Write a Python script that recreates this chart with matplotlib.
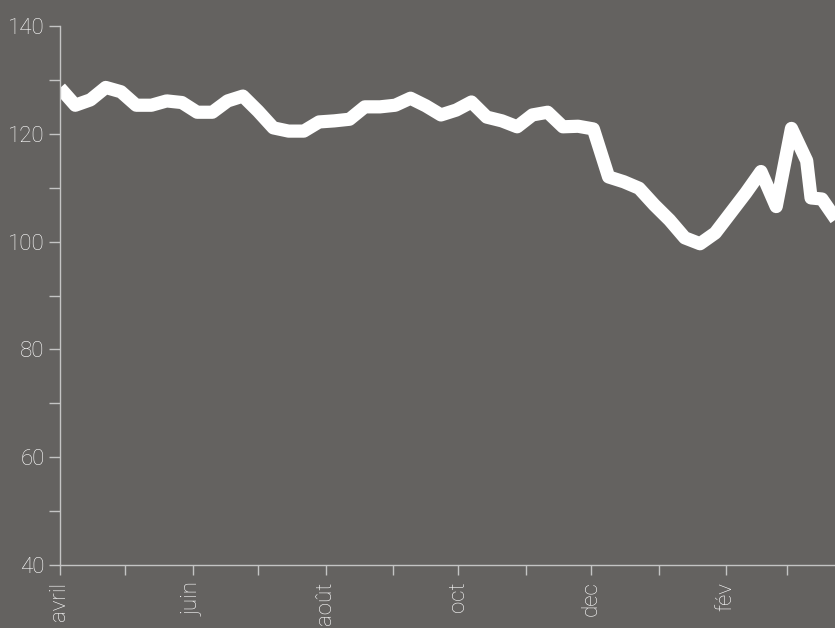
import pandas as pd
import matplotlib.pyplot as plt
import matplotlib.dates as mdates
from matplotlib.ticker import MultipleLocator, FixedLocator

# weekly values (plus one extra point in march)
dates = pd.to_datetime([
    "2013-04-01", "2013-04-08", "2013-04-15", "2013-04-22", "2013-04-29",
    "2013-05-06", "2013-05-13", "2013-05-20", "2013-05-27", "2013-06-03",
    "2013-06-10", "2013-06-17", "2013-06-24", "2013-07-01", "2013-07-08",
    "2013-07-15", "2013-07-22", "2013-07-29", "2013-08-05", "2013-08-12",
    "2013-08-19", "2013-08-26", "2013-09-02", "2013-09-09", "2013-09-16",
    "2013-09-23", "2013-09-30", "2013-10-07", "2013-10-14", "2013-10-21",
    "2013-10-28", "2013-11-04", "2013-11-11", "2013-11-18", "2013-11-25",
    "2013-12-02", "2013-12-09", "2013-12-16", "2013-12-23", "2013-12-30",
    "2014-01-06", "2014-01-13", "2014-01-20", "2014-01-27", "2014-02-03",
    "2014-02-10", "2014-02-17", "2014-02-24", "2014-03-03", "2014-03-10",
    "2014-03-12", "2014-03-17", "2014-03-24",
])
values = [
    128.5, 125.3, 126.3, 128.6, 127.8,
    125.3, 125.3, 126.1, 125.8, 124.0,
    124.0, 126.1, 127.0, 124.2, 121.1,
    120.5, 120.5, 122.2, 122.4, 122.7,
    125.0, 125.0, 125.3, 126.6, 125.2,
    123.5, 124.4, 125.9, 123.1, 122.4,
    121.3, 123.5, 124.0, 121.3, 121.4,
    120.9, 112.0, 111.1, 109.9, 106.8,
    104.0, 100.7, 99.6, 101.6, 105.3,
    109.0, 113.0, 106.5, 121.0, 115.0,
    108.1, 107.9, 103.8,
]

month_ticks = pd.date_range("2013-04-01", "2014-03-01", freq="MS")
month_labels = ["avril", "", "juin", "", "août", "", "oct", "", "dec", "", "fév", ""]

bg = "#646260"
fg = "#ffffff"
axis_col = "#c4c4c4"

plt.rcParams["font.family"] = ["Roboto", "DejaVu Sans"]
plt.rcParams["font.weight"] = "light"

fig = plt.figure(figsize=(8.35, 6.28), dpi=100, facecolor=bg)
ax = fig.add_axes([60 / 835, 63 / 628, 775 / 835, 539 / 628])
ax.set_facecolor(bg)

ax.plot(dates, values, color="white", lw=9.5, solid_joinstyle="round", solid_capstyle="butt")

ax.set_xlim(pd.Timestamp("2013-04-01"), pd.Timestamp("2014-03-23"))
ax.set_ylim(40, 140)

ax.xaxis.set_major_locator(FixedLocator(mdates.date2num(month_ticks)))
ax.set_xticklabels(month_labels, rotation=90, va="top", ha="center")
ax.yaxis.set_major_locator(MultipleLocator(20))
ax.yaxis.set_minor_locator(MultipleLocator(10))

for side in ["top", "right"]:
    ax.spines[side].set_visible(False)
for side in ["left", "bottom"]:
    ax.spines[side].set_color(axis_col)
    ax.spines[side].set_linewidth(1.0)

ax.tick_params(axis="y", which="both", length=8, width=1, color=axis_col,
               labelcolor=fg, labelsize=16, pad=3)
ax.tick_params(axis="x", length=7, width=1, color=axis_col,
               labelcolor=fg, labelsize=16, pad=5)

fig.savefig("out.png", dpi=100, facecolor=bg)
